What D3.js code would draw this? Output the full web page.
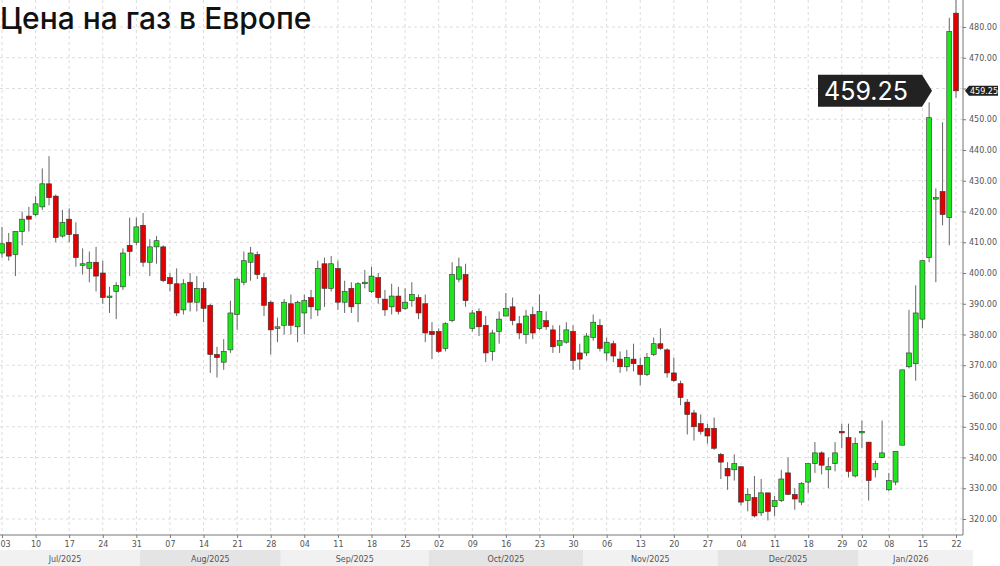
<!DOCTYPE html>
<html>
<head>
<meta charset="utf-8">
<script src="https://cdn.jsdelivr.net/npm/d3@7"></script>
<style>
  body { margin: 0; background: #fff; }
  text { font-family: "DejaVu Sans", sans-serif; }
</style>
</head>
<body>
<svg id="chart"></svg>
<script>
// OHLC per trading day, Jul 03 2025 .. Jan 22 2026
const opens = [406.5,410,406,413.5,418.5,419,421.5,429,425,412,417.5,412.5,403,401.5,403.5,400,392,394,395.5,409,
  410,415.5,403.5,408.5,408.5,398.5,396.5,388,397,390.5,395,389.5,373.5,371,375,386.5,397,403.5,406,398.5,
  390.5,382.5,383,390,382.5,387,392,388,403,395,401.5,390.5,395,390,397,394,398.5,391.5,389,392.5,
  388.5,391,392,390,381,381,375.5,384.5,398,399.5,382,387.5,383,374.5,381,386,389,383.5,380,386.5,
  382,384.5,381.5,376.5,377.5,381,374,374,379,383,374,377,372,369.5,372,370,367,373.5,377,375,
  367.5,364,358,354.5,351,349.5,349.5,341,336.5,336,337,326,327,322,328.5,324,326,335,328,325.5,
  332,338,341.5,336,338,348.5,346.5,334,348.5,345,336,340,329.5,332,344,369.5,370.5,385,405,424.5,
  426.5,418,484.5];
const highs = [415,413,413.5,420,421.5,425,434,438,425.5,420.5,421,416.5,408,407,408.5,404,395.5,397,408,418,
  418,419.5,411,412,409,400,401.5,398,400,399,397,390,376,378.5,391,398.5,407,408.5,407,400,
  391,385.5,391.5,393,391,393,394.5,404,405,405.5,404,397.5,397,397,401,402,400,394.5,396.5,395.5,
  395,397,393,393,384,382,384,403.5,405,403,388,388.5,386,381.5,387.5,393.5,392,386,388,389,
  393,387.5,383,383,384,383,377,380.5,386.5,385,379,378,374.5,375,377,372.5,374,379,382,375.5,
  372.5,365,359,355.5,354,351,353,341.5,338.5,341,337,330,334,333,328.5,327.5,336,340,330,332,
  338,345,342,340,345,351,351,346.5,352,345,339,352,335,342,368.5,388,396,404,455.5,427.5,
  449,483,490];
const lows = [405,404,399,409,413.5,418.5,420.5,422,410,411.5,410,402,399.5,397,394,390,387,385,394.5,399,
  409,402,399,403,397,394,386,386.5,387.5,387.5,384,367.5,366,368.5,374,381.5,396,397.5,398,386,
  373.5,377.5,380,380,377.5,380,385,386,389,394,388,387,387,384,395,393.5,390,386,386.5,386.5,
  388,389,385,377.5,372,374,374.5,384,397,389,381,379.5,371,371.5,377,386,383,378.5,377,378.5,
  381.5,381.5,374,374,377,368.5,368.5,373,378,374.5,371.5,371,367.5,368,368,363.5,366.5,373,375,366,
  364.5,357,347.5,345.5,347.5,344.5,342.5,333,329.5,332.5,324.5,322.5,320.5,321,319.5,321,325.5,328,323,324.5,
  328.5,335,334.5,330,335.5,343,333.5,333.5,343,326,333.5,340,329,331,344,369,365,382,403.5,397,
  415.5,409,457];
const closes = [409.5,405.5,413.5,417.5,417.5,422.5,429,424.5,411.5,416.5,412.5,405,403,403.5,399,392,392.5,396,406.5,407,
  415,403.5,408.5,410.5,397.5,396.5,387,396.5,390.5,395,388.5,373.5,372.5,374.5,387,398,404,406.5,399.5,389.5,
  381.5,382.5,390.5,383,390.5,391,389,401.5,395,403,390.5,394,389,396.5,397,399,392,388,392.5,387.5,
  390.5,393,387,380.5,380,374.5,383.5,399.5,402,391,387,382.5,374,380.5,385,388.5,384.5,380.5,386,380.5,
  387.5,382.5,376,378,381.5,371.5,372,379.5,384,375.5,377.5,373,369.5,372.5,370.5,367,372.5,377,375.5,367.5,
  365,359.5,354,350,348.5,347,343,338.5,334,338,325.5,328,321,328.5,322.5,326,333,328,326.5,331.5,
  338,341.5,337.5,337,341.5,348,335.5,344.5,348.5,332.5,338,341.5,332.5,342,368.5,374,387,404,450.5,424.5,
  419,478.5,459.25];

const tickIdx = [0,5,10,15,20,25,30,35,40,45,50,55,60,65,70,75,80,85,90,95,100,105,110,115,120,125,128,132,137,142];
const tickLabels = ["03","10","17","24","31","07","14","21","28","04","11","18","25","02","09","16","23","30","06","13","20","27","04","11","18","29","02","08","15","22"];
const monthStart = [0,21,42,64,87,107,128];
const monthLabels = ["Jul/2025","Aug/2025","Sep/2025","Oct/2025","Nov/2025","Dec/2025","Jan/2026"];
const yTicks = d3.range(320, 490, 10);
const lastPrice = 459.25;

const W = 1000, H = 566;
const plotRight = 963, plotBottom = 535;

const svg = d3.select('#chart').attr('width', W).attr('height', H);

const x = d3.scaleLinear().domain([0, 142]).range([2, 956]);
const y = d3.scaleLinear().domain([320, 480]).range([519, 27]);

// month bands
const bandEnd = monthStart.slice(1).concat([145]);
svg.selectAll('.band').data(monthLabels).enter().append('rect')
  .attr('x', (d, i) => i === 0 ? 0 : x(monthStart[i] - 0.5))
  .attr('width', (d, i) => Math.min(W, x(bandEnd[i] - 0.5)) - (i === 0 ? 0 : x(monthStart[i] - 0.5)))
  .attr('y', 550).attr('height', 16)
  .attr('fill', (d, i) => i % 2 ? '#e4e4e4' : '#f1f1f1');
svg.selectAll('.mlabel').data(monthLabels).enter().append('text')
  .attr('x', (d, i) => i === 0 ? 65 : (x(monthStart[i] - 0.5) + Math.min(plotRight, x(bandEnd[i] - 0.5))) / 2)
  .attr('y', 562).attr('text-anchor', 'middle')
  .attr('font-size', 8).attr('fill', '#555').text(d => d);

// grid
svg.append('g').selectAll('line').data(yTicks).enter().append('line')
  .attr('x1', 0).attr('x2', plotRight).attr('y1', d => y(d)).attr('y2', d => y(d))
  .attr('stroke', '#ddd').attr('stroke-dasharray', '3,3');
svg.append('g').selectAll('line').data(tickIdx).enter().append('line')
  .attr('x1', d => x(d)).attr('x2', d => x(d)).attr('y1', 0).attr('y2', plotBottom)
  .attr('stroke', '#ddd').attr('stroke-dasharray', '3,3');

// candles
const candles = svg.append('g').selectAll('g').data(d3.range(opens.length)).enter().append('g');
candles.append('line')
  .attr('x1', i => x(i)).attr('x2', i => x(i))
  .attr('y1', i => y(highs[i])).attr('y2', i => y(lows[i]))
  .attr('stroke', '#666').attr('stroke-width', 1);
candles.append('rect')
  .attr('x', i => x(i) - 2.5).attr('width', 5)
  .attr('y', i => y(Math.max(opens[i], closes[i])))
  .attr('height', i => Math.max(1.5, Math.abs(y(opens[i]) - y(closes[i]))))
  .attr('fill', i => closes[i] >= opens[i] ? '#1fe51f' : '#e00000')
  .attr('stroke', '#333').attr('stroke-width', 0.6);

// frame + axes
svg.append('line').attr('x1', 0).attr('x2', plotRight).attr('y1', plotBottom).attr('y2', plotBottom)
  .attr('stroke', '#777');
svg.append('line').attr('x1', plotRight).attr('x2', plotRight).attr('y1', 0).attr('y2', plotBottom)
  .attr('stroke', '#777');

const xAxis = d3.axisBottom(x).tickValues(tickIdx).tickSize(3)
  .tickFormat((d, i) => tickLabels[i]);
svg.append('g').attr('transform', `translate(0,${plotBottom})`).call(xAxis)
  .call(g => g.select('.domain').remove())
  .call(g => g.selectAll('text').attr('font-size', 8).attr('fill', '#555')
    .attr('text-anchor', (d, i) => i === 0 ? 'start' : 'middle').attr('dx', (d, i) => i === 0 ? -2 : 0))
  .call(g => g.selectAll('line').attr('stroke', '#777'));

// the 460 label sits under the last-price tag
const yAxis = d3.axisRight(y).tickValues(yTicks).tickSize(3)
  .tickFormat(d => d === 460 ? '' : d3.format('.2f')(d));
svg.append('g').attr('transform', `translate(${plotRight},0)`).call(yAxis)
  .call(g => g.select('.domain').remove())
  .call(g => g.selectAll('text').attr('font-size', 8).attr('fill', '#555'))
  .call(g => g.selectAll('line').attr('stroke', '#777'));

// small last-price tag on axis
const ly = y(lastPrice);
svg.append('path')
  .attr('d', `M${plotRight + 2},${ly} L${plotRight + 6},${ly - 5} L${W - 2},${ly - 5} L${W - 2},${ly + 5} L${plotRight + 6},${ly + 5} Z`)
  .attr('fill', '#222');
svg.append('text').attr('x', plotRight + 7).attr('y', ly + 3).attr('font-size', 8)
  .attr('fill', '#fff').text(lastPrice.toFixed(2));

// big callout
svg.append('path')
  .attr('d', `M818,${ly - 16} L922,${ly - 16} L932,${ly} L922,${ly + 16} L818,${ly + 16} Z`)
  .attr('fill', '#222');
svg.append('text').attr('x', 866).attr('y', ly + 9).attr('text-anchor', 'middle')
  .attr('font-size', 25).attr('fill', '#fff')
  .style('font-family', 'Inter, sans-serif').text(lastPrice.toFixed(2));

// title
svg.append('text').attr('x', 0).attr('y', 29)
  .attr('font-size', 30).attr('font-weight', 500).attr('fill', '#111')
  .style('font-family', 'Inter, sans-serif')
  .text('Цена на газ в Европе');
</script>
</body>
</html>
